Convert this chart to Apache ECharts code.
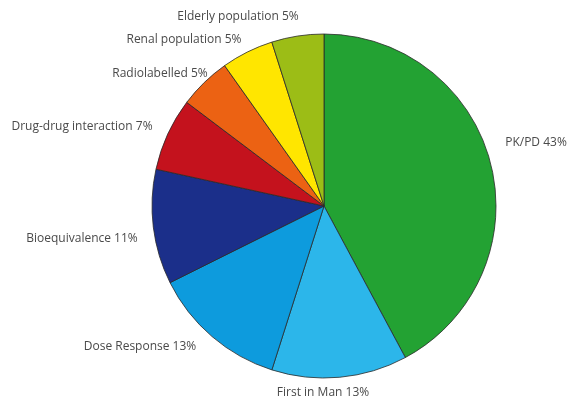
<!DOCTYPE html>
<html>
<head>
<meta charset="utf-8">
<script src="https://cdn.jsdelivr.net/npm/echarts@6/dist/echarts.min.js"></script>
<style>html,body{margin:0;padding:0;background:#fff;}#c{width:573px;height:403px;}</style>
</head>
<body>
<div id="c"></div>
<script>
const categories = ['PK/PD', 'First in Man', 'Dose Response', 'Bioequivalence', 'Drug-drug interaction', 'Radiolabelled', 'Renal population', 'Elderly population'];
const values = [43, 13, 13, 11, 7, 5, 5, 5];
const colors = ['#23a233', '#2cb6ea', '#0d9bdd', '#1b2f8a', '#c4121d', '#ec6213', '#ffe600', '#9cbd16'];
const labelPos = [[536,143],[323,393],[140,347],[82,239],[82,127],[160,74],[184,40],[238,17]];

const chart = echarts.init(document.getElementById('c'));
chart.setOption({
  animation: false,
  backgroundColor: '#fff',
  series: [{
    type: 'pie',
    center: [324, 206],
    radius: 172,
    startAngle: 90,
    clockwise: true,
    data: categories.map((n, i) => ({name: n, value: values[i], itemStyle: {color: colors[i]}})),
    itemStyle: {borderColor: '#2a2a2a', borderWidth: 0.8},
    label: {
      show: true,
      position: 'outside',
      formatter: p => p.name + ' ' + p.value + '%',
      color: '#4a4a4a',
      fontSize: 12,
      fontFamily: 'Open Sans',
      overflow: 'none',
      width: 300
    },
    labelLine: {show: false},
    emphasis: {disabled: true},
    labelLayout: function (params) {
      const p = labelPos[params.dataIndex];
      return {x: p[0], y: p[1], align: 'center', verticalAlign: 'middle'};
    }
  }]
});
</script>
</body>
</html>
